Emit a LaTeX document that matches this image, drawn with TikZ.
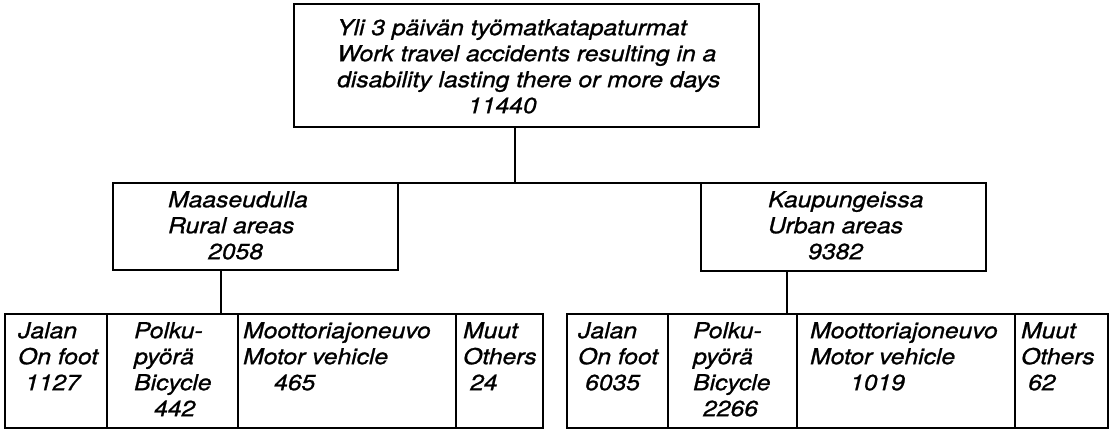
\documentclass[tikz,border=0pt]{standalone}
\usepackage{fontspec}
\newfontfamily\chartfont{TeX Gyre Heros}[FakeStretch=1.12,FakeBold=1]

\begin{document}
\begin{tikzpicture}[x=1pt, y=-1pt,
	cell/.style={draw, line width=1.6pt, anchor=north west, inner sep=0pt, outer sep=0pt},
	lbl/.style={anchor=north west, inner sep=0pt, align=left,
		font=\chartfont\itshape\fontsize{22}{26}\selectfont},
	link/.style={line width=1.3pt}]

	\useasboundingbox (0,0) rectangle (1114,430);

	% boxes
	\node[cell, minimum width=465pt, minimum height=123pt] (top) at (294,4) {};
	\node[cell, minimum width=285pt, minimum height=87pt] (rural) at (113,183) {};
	\node[cell, minimum width=285pt, minimum height=88pt] (urban) at (701,183) {};

	\node[cell, minimum width=102pt, minimum height=114pt] (rfoot) at (5,314) {};
	\node[cell, minimum width=131pt, minimum height=114pt] (rbike) at (107,314) {};
	\node[cell, minimum width=218pt, minimum height=114pt] (rmotor) at (238,314) {};
	\node[cell, minimum width=87pt, minimum height=114pt] (rother) at (456,314) {};

	\node[cell, minimum width=101pt, minimum height=114pt] (ufoot) at (567,314) {};
	\node[cell, minimum width=129pt, minimum height=114pt] (ubike) at (668,314) {};
	\node[cell, minimum width=218pt, minimum height=114pt] (umotor) at (797,314) {};
	\node[cell, minimum width=93pt, minimum height=114pt] (uother) at (1015,314) {};

	% texts
	\node[lbl] (top-txt) at (337,17) {\rule{0pt}{18pt}Yli 3 päivän työmatkatapaturmat\\
		Work travel accidents resulting in a\\
		disability lasting there or more days\\
		\hspace*{131pt}11440};
	\node[lbl] (rural-txt) at (168,189) {\rule{0pt}{18pt}Maaseudulla\\Rural areas\\\hspace*{40pt}2058};
	\node[lbl] (urban-txt) at (768,189) {\rule{0pt}{18pt}Kaupungeissa\\Urban areas\\\hspace*{40pt}9382};

	\node[lbl] (rfoot-txt) at (18,320) {\rule{0pt}{18pt}Jalan\\On foot\\\hspace*{7pt}1127};
	\node[lbl] (rbike-txt) at (134,320) {\rule{0pt}{18pt}Polku-\\pyörä\\Bicycle\\\hspace*{20pt}442};
	\node[lbl] (rmotor-txt) at (243,320) {\rule{0pt}{18pt}Moottoriajoneuvo\\Motor vehicle\\\hspace*{31pt}465};
	\node[lbl] (rother-txt) at (463,320) {\rule{0pt}{18pt}Muut\\Others\\\hspace*{7pt}24};

	\node[lbl] (ufoot-txt) at (578,320) {\rule{0pt}{18pt}Jalan\\On foot\\\hspace*{7pt}6035};
	\node[lbl] (ubike-txt) at (693,320) {\rule{0pt}{18pt}Polku-\\pyörä\\Bicycle\\\hspace*{10pt}2266};
	\node[lbl] (umotor-txt) at (810,320) {\rule{0pt}{18pt}Moottoriajoneuvo\\Motor vehicle\\\hspace*{40pt}1019};
	\node[lbl] (uother-txt) at (1021,320) {\rule{0pt}{18pt}Muut\\Others\\\hspace*{7pt}62};

	% connectors
	\coordinate (topjoin) at (515,183);
	\coordinate (rjoin) at (221,314);
	\coordinate (ujoin) at (787,314);
	\draw[link] (top.south -| topjoin) -- (topjoin);
	\draw[link] (rural.north east) -- (urban.north west);
	\draw[link] (rural.south -| rjoin) -- (rjoin);
	\draw[link] (urban.south -| ujoin) -- (ujoin);
\end{tikzpicture}
\end{document}
